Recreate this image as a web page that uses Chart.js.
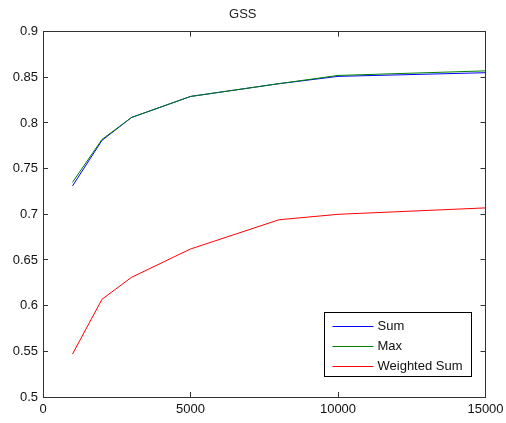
<!DOCTYPE html>
<html>
<head>
<meta charset="utf-8">
<script src="https://cdn.jsdelivr.net/npm/chart.js@4/dist/chart.umd.min.js"></script>
<style>
  html, body { margin: 0; padding: 0; background: #fff; }
  canvas { display: block; }
</style>
</head>
<body>
<canvas id="gssChart" width="506" height="423"></canvas>
<script>
// values
const sampleSizes = [1000, 2000, 3000, 5000, 8000, 10000, 15000];
const sumScores = [0.731, 0.781, 0.806, 0.829, 0.843, 0.851, 0.855];
const maxScores = [0.735, 0.782, 0.806, 0.829, 0.843, 0.852, 0.857];
const weightedScores = [0.547, 0.607, 0.631, 0.662, 0.694, 0.700, 0.707];
const xTicks = [0, 5000, 10000, 15000];
const yTicks = [0.5, 0.55, 0.6, 0.65, 0.7, 0.75, 0.8, 0.85, 0.9];

const FONT = "'Liberation Sans', Arial, sans-serif";
const AXIS = '#333';

const toPoints = ys => sampleSizes.map((x, i) => ({ x, y: ys[i] }));

// MATLAB-style boxed legend in the lower right of the axes
const boxLegend = {
  id: 'boxLegend',
  afterDraw(chart) {
    const { ctx, chartArea } = chart;
    const w = 147, h = 64;
    const x0 = Math.round(chartArea.right - 14.5 - w) + 0.5;
    const y0 = Math.round(chartArea.bottom - 21 - h) + 0.5;
    ctx.save();
    ctx.fillStyle = '#fff';
    ctx.fillRect(x0, y0, w, h);
    ctx.strokeStyle = '#000';
    ctx.lineWidth = 1;
    ctx.strokeRect(x0, y0, w, h);
    ctx.font = '13px ' + FONT;
    ctx.textBaseline = 'middle';
    ctx.fillStyle = '#111';
    chart.data.datasets.forEach((ds, i) => {
      const y = Math.round(y0 + 13 + i * 20) + 0.5;
      ctx.strokeStyle = ds.borderColor;
      ctx.beginPath();
      ctx.moveTo(x0 + 8, y);
      ctx.lineTo(x0 + 49, y);
      ctx.stroke();
      ctx.fillText(ds.label, x0 + 53, y);
    });
    ctx.restore();
  }
};

const fixedTicks = list => axis => { axis.ticks = list.map(v => ({ value: v })); };
const noPad = s => { s.paddingLeft = 0; s.paddingRight = 0; s.paddingTop = 0; s.paddingBottom = 0; };

new Chart(document.getElementById('gssChart'), {
  type: 'line',
  data: {
    datasets: [
      { label: 'Sum', data: toPoints(sumScores), borderColor: '#0000ff', order: 2 },
      { label: 'Max', data: toPoints(maxScores), borderColor: '#008000', order: 1 },
      { label: 'Weighted Sum', data: toPoints(weightedScores), borderColor: '#ff0000', order: 0 }
    ]
  },
  options: {
    responsive: false,
    animation: false,
    elements: {
      line: { borderWidth: 1, tension: 0, fill: false },
      point: { radius: 0, hoverRadius: 0 }
    },
    layout: { padding: { left: 0, right: 20.5, top: 0, bottom: 0 } },
    plugins: {
      title: {
        display: true, text: 'GSS', color: '#222',
        font: { family: FONT, size: 13, weight: 'normal' },
        padding: { top: 7, bottom: 9 }
      },
      legend: { display: false },
      tooltip: { enabled: false }
    },
    scales: {
      x: {
        type: 'linear', position: 'bottom', min: 0, max: 15000,
        afterBuildTicks: fixedTicks(xTicks),
        ticks: { color: '#111', font: { family: FONT, size: 13 }, padding: 10, maxRotation: 0, callback: v => String(v) },
        grid: { drawOnChartArea: false, tickLength: -5, color: AXIS },
        border: { color: AXIS },
        afterFit: s => { s.height = 26; noPad(s); }
      },
      y: {
        type: 'linear', position: 'left', min: 0.5, max: 0.9,
        afterBuildTicks: fixedTicks(yTicks),
        ticks: { color: '#111', font: { family: FONT, size: 13 }, padding: 10, callback: v => String(+v.toFixed(2)) },
        grid: { drawOnChartArea: false, tickLength: -5, color: AXIS },
        border: { color: AXIS },
        afterFit: s => { s.width = 43; noPad(s); }
      },
      xTop: {
        type: 'linear', position: 'top', min: 0, max: 15000,
        afterBuildTicks: fixedTicks(xTicks),
        ticks: { display: false },
        grid: { drawOnChartArea: false, tickLength: -5, color: AXIS },
        border: { color: AXIS },
        afterFit: s => { s.height = 0; noPad(s); }
      },
      yRight: {
        type: 'linear', position: 'right', min: 0.5, max: 0.9,
        afterBuildTicks: fixedTicks(yTicks),
        ticks: { display: false },
        grid: { drawOnChartArea: false, tickLength: -5, color: AXIS },
        border: { color: AXIS },
        afterFit: s => { s.width = 0; noPad(s); }
      }
    }
  },
  plugins: [boxLegend]
});
</script>
</body>
</html>
